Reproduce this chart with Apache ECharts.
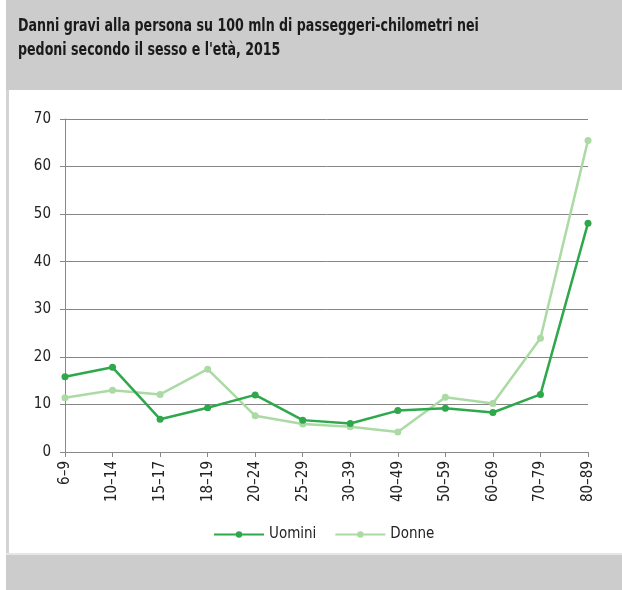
<!doctype html>
<html>
<head>
    <meta charset="utf-8">
    <title>Danni gravi pedoni</title>
    <style type="text/css">
        body, html {
            width: 100%;
            height: 100%;
            margin: 0;
            padding: 0;
            background: #fff;
        }
    </style>
</head>
<body>
<div id="container" style="width: 622px; height: 590px"></div>

<script type="text/javascript" src="https://fastly.jsdelivr.net/npm/echarts@6.0.0/dist/echarts.min.js"></script>
<script type="text/javascript">
    // dati
    const categories = ['6–9', '10–14', '15–17', '18–19', '20–24', '25–29', '30–39', '40–49', '50–59', '60–69', '70–79', '80–89'];
    const uomini = [15.8, 17.8, 6.9, 9.3, 12.0, 6.7, 6.0, 8.7, 9.2, 8.3, 12.1, 48.1];
    const donne = [11.4, 13.0, 12.1, 17.4, 7.6, 5.9, 5.3, 4.2, 11.5, 10.2, 23.9, 65.5];
    const yTicks = [0, 10, 20, 30, 40, 50, 60, 70];

    const font = '"Liberation Sans Narrow", "DejaVu Sans Condensed", sans-serif';
    const titolo = 'Danni gravi alla persona su 100 mln di passeggeri-chilometri nei\npedoni secondo il sesso e l\'età, 2015';

    const dom = document.getElementById('container');
    const myChart = echarts.init(dom, null, { renderer: 'canvas' });

    const option = {
        animation: false,
        textStyle: { fontFamily: font },
        graphic: [
            { type: 'rect', shape: { x: 0, y: 0, width: 6, height: 590 }, style: { fill: '#ffffff' }, z: -10 },
            { type: 'rect', shape: { x: 6, y: 0, width: 616, height: 90 }, style: { fill: '#cccccc' }, z: -10 },
            { type: 'rect', shape: { x: 6, y: 90, width: 3, height: 465 }, style: { fill: '#d4d4d4' }, z: -10 },
            { type: 'rect', shape: { x: 6, y: 555, width: 616, height: 35 }, style: { fill: '#cccccc' }, z: -10 },
            { type: 'rect', shape: { x: 6, y: 553, width: 616, height: 2 }, style: { fill: '#e6e6e6' }, z: -10 },
            // titolo in carattere condensato
            {
                type: 'text',
                x: 18,
                y: 14,
                scaleX: 0.78,
                style: {
                    text: titolo,
                    font: 'bold 18px ' + font,
                    lineHeight: 24,
                    fill: '#1a1a1a'
                }
            }
        ],
        legend: {
            bottom: 43,
            left: 208,
            itemWidth: 50,
            itemHeight: 8,
            itemGap: 18,
            textStyle: { fontFamily: font, fontSize: 15, color: '#222' },
            data: ['Uomini', 'Donne']
        },
        grid: {
            left: 65,
            right: 34,
            top: 119,
            bottom: 138
        },
        xAxis: {
            type: 'category',
            boundaryGap: false,
            data: categories,
            axisLine: { lineStyle: { color: '#888', width: 1 } },
            axisTick: { show: true, length: 5, alignWithLabel: true, lineStyle: { color: '#888' } },
            axisLabel: {
                rotate: 90,
                margin: 9,
                fontSize: 15,
                color: '#222',
                fontFamily: font,
                interval: 0
            }
        },
        yAxis: {
            type: 'value',
            min: yTicks[0],
            max: yTicks[yTicks.length - 1],
            interval: 10,
            axisLine: { show: true, lineStyle: { color: '#888', width: 1 } },
            axisTick: { show: true, length: 5, lineStyle: { color: '#888' } },
            axisLabel: { fontSize: 15, color: '#222', margin: 14, fontFamily: font },
            splitLine: { lineStyle: { color: '#858585', width: 1 } }
        },
        series: [
            {
                name: 'Uomini',
                type: 'line',
                data: uomini,
                symbol: 'circle',
                symbolSize: 7,
                lineStyle: { width: 2.5, color: '#2ea84b' },
                itemStyle: { color: '#2ea84b' },
                z: 3
            },
            {
                name: 'Donne',
                type: 'line',
                data: donne,
                symbol: 'circle',
                symbolSize: 7,
                lineStyle: { width: 2.5, color: '#acdaa5' },
                itemStyle: { color: '#acdaa5' },
                z: 2
            }
        ]
    };

    myChart.setOption(option);
    window.addEventListener('resize', myChart.resize);
</script>
</body>
</html>
